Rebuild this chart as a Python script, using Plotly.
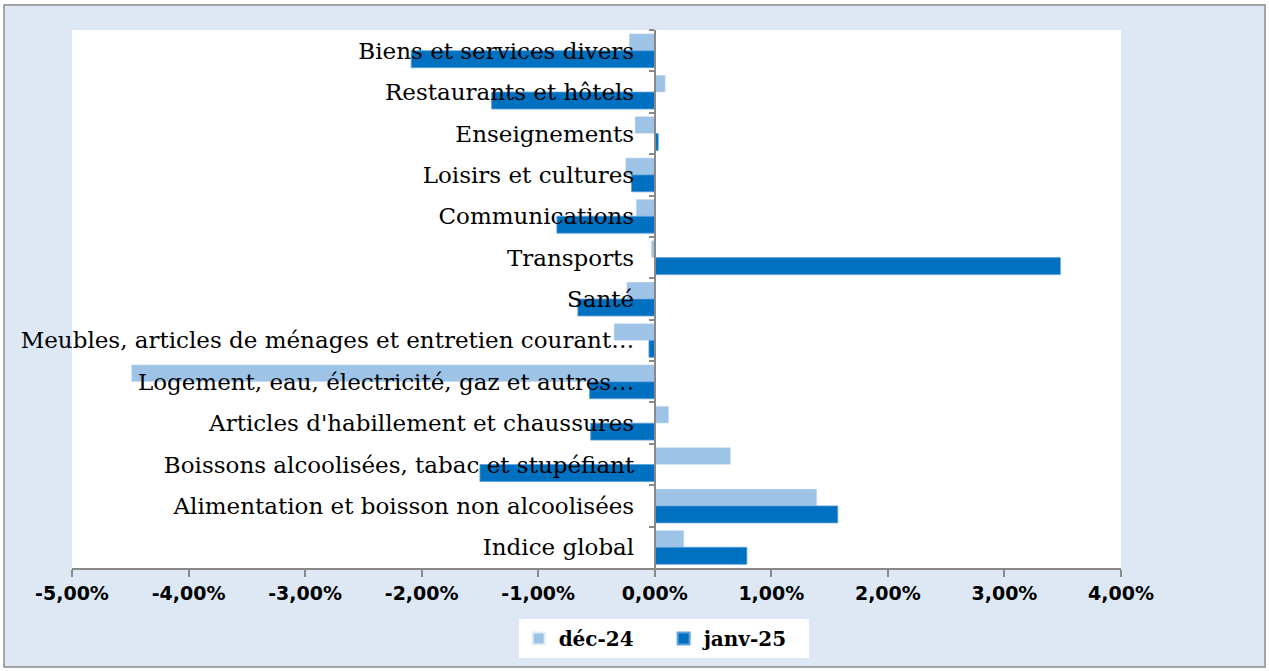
import plotly.graph_objects as go

# categories, top to bottom as in the chart
categories = [
    "Biens et services divers",
    "Restaurants et hôtels",
    "Enseignements",
    "Loisirs et cultures",
    "Communications",
    "Transports",
    "Santé",
    "Meubles, articles de ménages et entretien courant…",
    "Logement, eau, électricité, gaz et autres…",
    "Articles d'habillement et chaussures",
    "Boissons alcoolisées, tabac et stupéfiant",
    "Alimentation et boisson non alcoolisées",
    "Indice global",
]

# monthly change in %
dec24 = [-0.22, 0.09, -0.17, -0.25, -0.16, -0.03, -0.24, -0.35, -4.49, 0.12, 0.65, 1.39, 0.25]
janv25 = [-2.09, -1.40, 0.03, -0.20, -0.84, 3.48, -0.66, -0.05, -0.56, -0.55, -1.50, 1.57, 0.79]

xticks = [-5, -4, -3, -2, -1, 0, 1, 2, 3, 4]
xticklabels = ["-5,00%", "-4,00%", "-3,00%", "-2,00%", "-1,00%",
               "0,00%", "1,00%", "2,00%", "3,00%", "4,00%"]

serif = "DejaVu Serif"

fig = go.Figure()
fig.add_trace(go.Bar(name="déc-24", y=categories, x=dec24, orientation="h",
                     marker=dict(color="#9dc3e6")))
fig.add_trace(go.Bar(name="janv-25", y=categories, x=janv25, orientation="h",
                     marker=dict(color="#0070c0", line=dict(color="#5fa0dc", width=0.8))))

# outer frame
fig.add_shape(type="rect", xref="paper", yref="paper",
              x0=-0.0686, x1=1.1411, y0=-0.1914, y1=1.0558,
              line=dict(color="white", width=8), layer="below")
fig.add_shape(type="rect", xref="paper", yref="paper",
              x0=-0.0648, x1=1.1373, y0=-0.1840, y1=1.0465,
              line=dict(color="#8c8c8c", width=1.5), layer="below")

fig.update_layout(
    width=1269, height=671,
    margin=dict(l=72, r=148, t=30, b=103, autoexpand=False),
    paper_bgcolor="#dde8f4",
    plot_bgcolor="white",
    barmode="group",
    bargap=0.18,
    bargroupgap=0,
    showlegend=True,
    legend=dict(orientation="h", x=0.564, xanchor="center", y=-0.095, yanchor="top",
                bgcolor="white", font=dict(family=serif, size=20, color="black", weight="bold"),
                entrywidth=100, itemsizing="constant"),
    xaxis=dict(range=[-5, 4], tickvals=xticks, ticktext=xticklabels,
               showgrid=False, zeroline=False, automargin=False,
               showline=True, linecolor="#898989", linewidth=2,
               ticks="outside", ticklen=7, tickcolor="#898989", tickwidth=1.5,
               tickfont=dict(family="DejaVu Sans", size=19, color="black", weight="bold"),
               fixedrange=True),
    yaxis=dict(autorange="reversed", anchor="free", position=5 / 9,
               showline=True, linecolor="#898989", linewidth=2,
               ticks="outside", ticklen=5, tickcolor="#898989", tickwidth=1.5,
               tickson="boundaries", showgrid=False, automargin=False,
               ticklabelstandoff=15,
               tickfont=dict(family=serif, size=23, color="black")),
)

fig.write_html("out.html", config={"displayModeBar": False},
               post_script="document.body.style.margin='0';")
